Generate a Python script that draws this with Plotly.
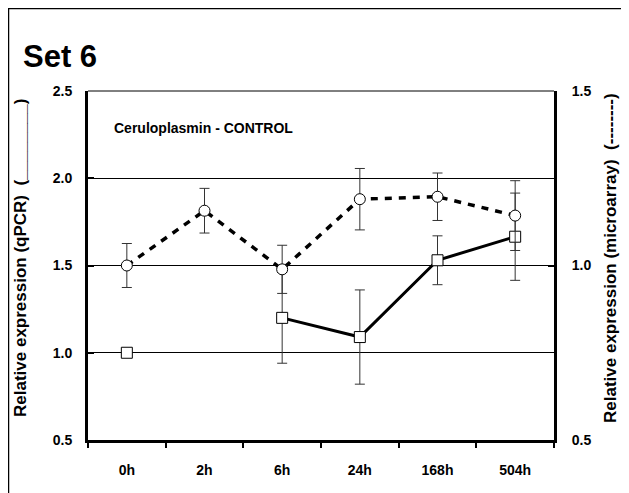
import plotly.graph_objects as go

# ---- data ----
times = ["0h", "2h", "6h", "24h", "168h", "504h"]
qpcr = [1.00, None, 1.20, 1.09, 1.53, 1.665]          # left axis, squares, solid
qpcr_err = [0, 0, 0.26, 0.27, 0.14, 0.25]
micro = [1.00, 1.157, 0.989, 1.19, 1.197, 1.143]     # right axis, circles, dashed
micro_err = [0.063, 0.064, 0.069, 0.088, 0.068, 0.10]

left_ticks = [0.5, 1.0, 1.5, 2.0, 2.5]
right_ticks = [0.5, 1.0, 1.5]

FONT = "Liberation Sans, Arial, sans-serif"
W, H = 629, 493
OFF = 8  # page body margin
# plot area in page pixels (from the reference)
PL, PR, PT, PB = 88, 554, 91, 440
ML, MT = PL - OFF, PT - OFF
MR, MB = W - (PR - OFF), H - (PB - OFF)

fig = go.Figure()

fig.add_trace(go.Scatter(
    x=times, y=micro, yaxis="y2", mode="lines+markers",
    line=dict(color="black", width=3.5, dash="7px,7px"),
    marker=dict(symbol="circle", size=11, color="white",
                line=dict(color="black", width=1)),
    error_y=dict(type="data", array=micro_err, visible=True,
                 color="#333333", thickness=1, width=5),
    connectgaps=True, showlegend=False,
))

fig.add_trace(go.Scatter(
    x=times, y=qpcr, mode="lines+markers",
    line=dict(color="black", width=3),
    marker=dict(symbol="square", size=11, color="white",
                line=dict(color="black", width=1)),
    error_y=dict(type="data", array=qpcr_err, visible=True,
                 color="#333333", thickness=1, width=5),
    connectgaps=False, showlegend=False,
))

tickfont = dict(family=FONT, size=14, color="black", weight="bold")

fig.update_layout(
    width=W, height=H,
    margin=dict(l=ML, r=MR, t=MT, b=MB),
    paper_bgcolor="white", plot_bgcolor="white",
    font=dict(family=FONT, color="black"),
    xaxis=dict(
        type="category", categoryorder="array", categoryarray=times,
        range=[-0.5, 5.5],
        showline=True, linecolor="black", linewidth=3,
        ticks="outside", ticklen=5, tickwidth=2, tickcolor="black",
        tickson="boundaries", showgrid=False, zeroline=False,
        tickfont=tickfont, ticklabelstandoff=15,
    ),
    yaxis=dict(
        range=[0.5, 2.5], tickvals=left_ticks,
        ticktext=[f"{v:.1f}" for v in left_ticks],
        showline=True, linecolor="black", linewidth=3,
        ticks="inside", ticklen=6, tickwidth=2, tickcolor="black",
        showgrid=True, gridcolor="black", gridwidth=1, zeroline=False,
        tickfont=tickfont, ticklabelstandoff=10,
    ),
    yaxis2=dict(
        overlaying="y", side="right",
        range=[0.5, 1.5], tickvals=right_ticks,
        ticktext=[f"{v:.1f}" for v in right_ticks],
        showline=True, linecolor="black", linewidth=3,
        ticks="inside", ticklen=6, tickwidth=2, tickcolor="black",
        showgrid=False, zeroline=False,
        tickfont=tickfont, ticklabelstandoff=12,
    ),
)

# top thin border of plot area
fig.add_shape(type="line", xref="paper", yref="paper", x0=0, x1=1, y0=1, y1=1,
              line=dict(color="black", width=1))

def px_x(p):
    """page x pixel -> paper x"""
    return (p - OFF - ML) / (W - ML - MR)

def px_y(p):
    """page y pixel -> paper y"""
    return 1 - (p - OFF - MT) / (H - MT - MB)

# outer frame (left and top visible, right/bottom beyond the window)
fig.add_shape(type="rect", xref="paper", yref="paper",
              x0=px_x(8.5), x1=px_x(W + 30), y0=px_y(H + 30), y1=px_y(8.5),
              line=dict(color="black", width=1.5), layer="below")

fig.add_annotation(text="<b>Set 6</b>", xref="paper", yref="paper",
                   x=px_x(21), y=px_y(57), xanchor="left", yanchor="middle",
                   showarrow=False, font=dict(family=FONT, size=31, color="black"))

fig.add_annotation(text="<b>Ceruloplasmin - CONTROL</b>", xref="paper", yref="paper",
                   x=px_x(112), y=px_y(128), xanchor="left", yanchor="middle",
                   showarrow=False, font=dict(family=FONT, size=14, color="black"))

fig.add_annotation(text="<b>Relative expression (qPCR)  (________)</b>",
                   xref="paper", yref="paper", x=px_x(21), y=px_y(258),
                   xanchor="center", yanchor="middle", textangle=-90,
                   showarrow=False, font=dict(family=FONT, size=17, color="black"))

fig.add_annotation(text="<b>Relative expression (microarray)  (--------)</b>",
                   xref="paper", yref="paper", x=px_x(611), y=px_y(258),
                   xanchor="center", yanchor="middle", textangle=-90,
                   showarrow=False, font=dict(family=FONT, size=17, color="black"))

fig.write_html("out.html")
